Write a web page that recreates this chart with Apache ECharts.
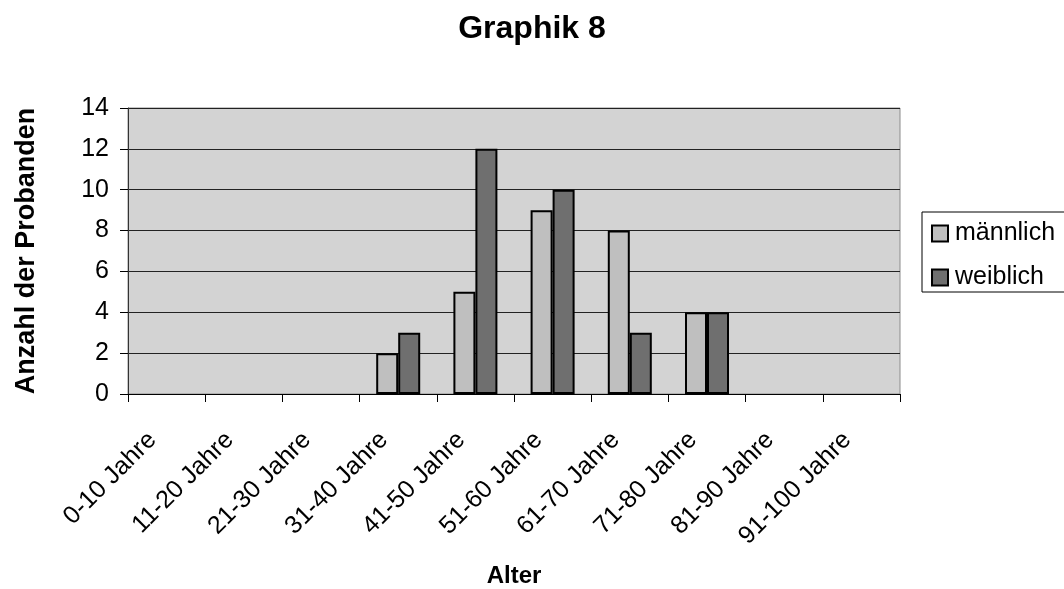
<!DOCTYPE html>
<html>
<head>
<meta charset="utf-8">
<script src="https://cdn.jsdelivr.net/npm/echarts@6/dist/echarts.min.js"></script>
<style>
html, body { margin: 0; padding: 0; background: #fff; }
#chart { width: 1064px; height: 589px; }
</style>
</head>
<body>
<div id="chart"></div>
<script>
// Altersgruppen und Werte
var categories = ['0-10 Jahre', '11-20 Jahre', '21-30 Jahre', '31-40 Jahre', '41-50 Jahre',
	'51-60 Jahre', '61-70 Jahre', '71-80 Jahre', '81-90 Jahre', '91-100 Jahre'];
var maennlich = [0, 0, 0, 2, 5, 9, 8, 4, 0, 0];
var weiblich = [0, 0, 0, 3, 12, 10, 3, 4, 0, 0];
var seriesNames = ['männlich', 'weiblich'];

// Nullwerte nicht als flache Balken zeichnen
function ohneNull(arr) {
	return arr.map(function(v) { return v === 0 ? '-' : v; });
}

var font = 'Liberation Sans, Arial, sans-serif';
var myChart = echarts.init(document.getElementById('chart'));
var option = {
	animation : false,
	title : {
		text : 'Graphik 8',
		left : 'center',
		top : 8,
		textStyle : { fontFamily : font, fontSize : 32, fontWeight : 'bold', color : '#000' }
	},
	legend : {
		data : seriesNames,
		orient : 'vertical',
		left : 922,
		top : 212,
		padding : [9, 20, 2, 9],
		itemGap : 19,
		itemWidth : 16,
		itemHeight : 16,
		borderColor : '#000',
		borderWidth : 1,
		icon : 'rect',
		textStyle : { fontFamily : font, fontSize : 25, color : '#000', padding : [0, 0, 0, 2] }
	},
	grid : {
		left : 128,
		top : 108,
		width : 772,
		height : 287,
		show : true,
		backgroundColor : '#d3d3d3',
		borderColor : '#8c8c8c',
		borderWidth : 1
	},
	xAxis : {
		type : 'category',
		data : categories,
		name : 'Alter',
		nameLocation : 'middle',
		nameGap : 170,
		nameTextStyle : { fontFamily : font, fontSize : 24, fontWeight : 'bold', color : '#000' },
		axisLine : { lineStyle : { color : '#000', width : 1 } },
		axisTick : { show : true, length : 8, lineStyle : { color : '#000' } },
		axisLabel : { rotate : 45, fontFamily : font, fontSize : 25, color : '#000', margin : 28,
			padding : [0, 20, 0, 0] }
	},
	yAxis : {
		type : 'value',
		min : 0,
		max : 14,
		interval : 2,
		name : 'Anzahl der Probanden',
		nameLocation : 'middle',
		nameGap : 88,
		nameTextStyle : { fontFamily : font, fontSize : 27, fontWeight : 'bold', color : '#000' },
		axisLine : { show : true, lineStyle : { color : '#333', width : 1 } },
		axisTick : { show : true, length : 8, lineStyle : { color : '#000' } },
		axisLabel : { fontFamily : font, fontSize : 25, color : '#000', margin : 19 },
		splitLine : { lineStyle : { color : '#222', width : 1 } }
	},
	series : [ {
		name : seriesNames[0],
		type : 'bar',
		data : ohneNull(maennlich),
		barWidth : 22,
		barGap : '0%',
		itemStyle : { color : '#bfbfbf', borderColor : '#000', borderWidth : 2 }
	}, {
		name : seriesNames[1],
		type : 'bar',
		data : ohneNull(weiblich),
		barWidth : 22,
		barGap : '0%',
		itemStyle : { color : '#6f6f6f', borderColor : '#000', borderWidth : 2 }
	} ]
};
myChart.setOption(option);
</script>
</body>
</html>
